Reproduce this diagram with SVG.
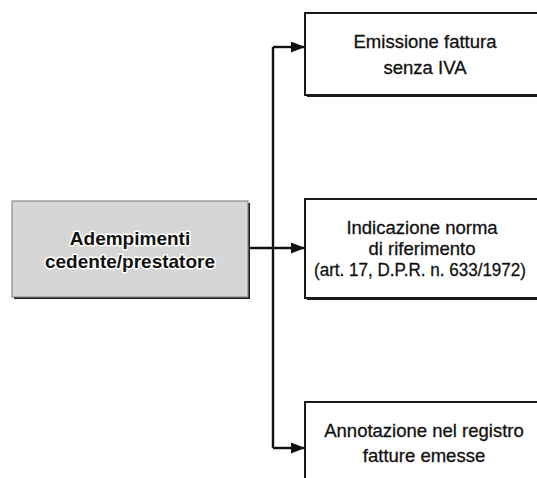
<svg xmlns="http://www.w3.org/2000/svg" width="537" height="478" viewBox="0 0 537 478">
  <defs>
    <marker id="arrow" viewBox="0 0 14 11" refX="14" refY="5.5" markerWidth="14" markerHeight="11" markerUnits="userSpaceOnUse" orient="auto">
      <path d="M0,0 L14,5.5 L0,11 Z" fill="#111"/>
    </marker>
  </defs>
  <style>
    .box { fill: #fff; stroke: #1a1a1a; stroke-width: 2; }
    .shadow { fill: #1a1a1a; }
    .src { fill: #d6d6d6; stroke: #8a8a8a; stroke-width: 1.2; }
    .lbl { font-family: "Liberation Sans", Arial, sans-serif; font-size: 18.5px; fill: #111; text-anchor: middle; stroke: #111; stroke-width: 0.3; }
    .bold { font-weight: bold; font-size: 19px; stroke: #fff; stroke-width: 3; paint-order: stroke; stroke-linejoin: round; }
    .wire { fill: none; stroke: #111; stroke-width: 2.4; }
  </style>
  <rect width="537" height="478" fill="#fff"/>

  <!-- connectors -->
  <g id="connectors">
    <path class="wire" d="M273,47 L273,448"/>
    <path class="wire" d="M273,47 L305,47" marker-end="url(#arrow)"/>
    <path class="wire" d="M248,248 L305,248" marker-end="url(#arrow)"/>
    <path class="wire" d="M273,448 L305,448" marker-end="url(#arrow)"/>
  </g>

  <!-- source node -->
  <g id="adempimenti">
    <rect class="shadow" x="14" y="203" width="236" height="96"/>
    <rect class="src" x="12" y="201" width="236" height="96"/>
    <text class="lbl bold" x="130" y="245">Adempimenti</text>
    <text class="lbl bold" x="130" y="268">cedente/prestatore</text>
  </g>

  <!-- target nodes -->
  <g id="emissione">
    <rect class="shadow" x="307" y="15" width="240" height="82"/>
    <rect class="box" x="305" y="13" width="240" height="82"/>
    <text class="lbl" x="425" y="48">Emissione fattura</text>
    <text class="lbl" x="425" y="74">senza IVA</text>
  </g>

  <g id="indicazione">
    <rect class="shadow" x="307" y="201" width="240" height="99"/>
    <rect class="box" x="305" y="199" width="240" height="99"/>
    <text class="lbl" x="422" y="234">Indicazione norma</text>
    <text class="lbl" x="422" y="255">di riferimento</text>
    <text class="lbl" x="420" y="276" textLength="212" lengthAdjust="spacingAndGlyphs">(art. 17, D.P.R. n. 633/1972)</text>
  </g>

  <g id="annotazione">
    <rect class="shadow" x="307" y="404" width="240" height="90"/>
    <rect class="box" x="305" y="402" width="240" height="90"/>
    <text class="lbl" x="424" y="437">Annotazione nel registro</text>
    <text class="lbl" x="424" y="462">fatture emesse</text>
  </g>
</svg>
